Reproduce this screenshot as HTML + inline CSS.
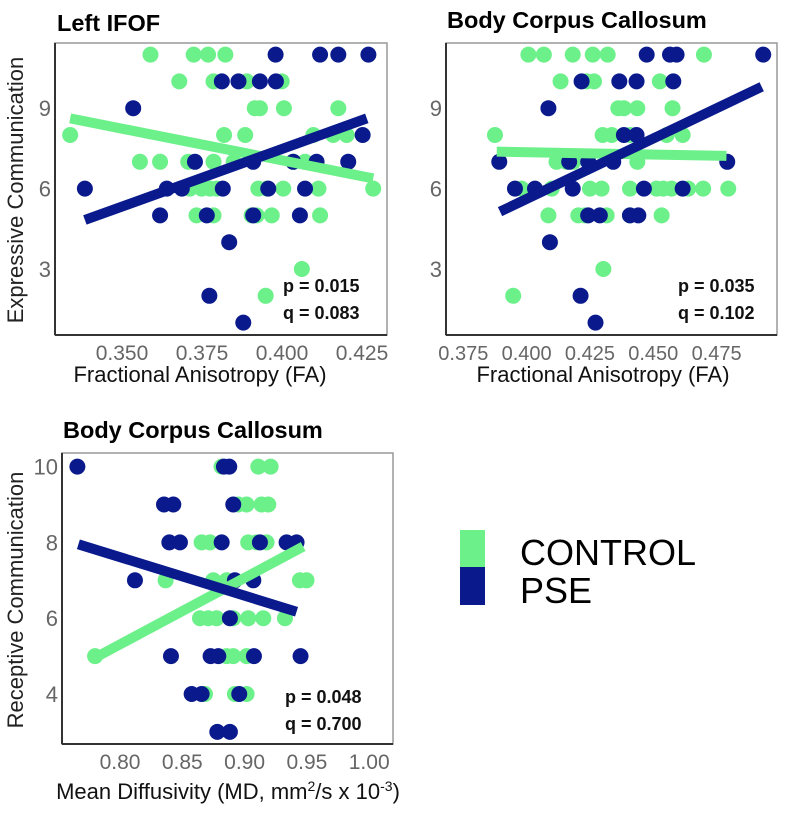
<!DOCTYPE html>
<html><head><meta charset="utf-8">
<style>
html,body{margin:0;padding:0;background:#fff;}
svg{display:block;font-family:"Liberation Sans",sans-serif;}
</style></head>
<body>
<svg id="chart" width="787" height="815" viewBox="0 0 787 815" xmlns="http://www.w3.org/2000/svg"></svg>
<script>
// ---------- DATA ----------
const aCtrlX = [0.3589,0.3724,0.3769,0.3823,0.3679,0.3786,0.3890,0.3999,0.3915,0.3931,0.4006,0.4176,0.3338,0.3819,0.3885,0.4098,0.4160,0.4202,0.3556,0.3619,0.3707,0.3786,0.3849,0.4036,0.4072,0.3712,0.3749,0.3775,0.3796,0.3926,0.3953,0.4004,0.4114,0.4285,0.3733,0.3786,0.3905,0.3921,0.3968,0.4119,0.4062,0.3949];
const aCtrlY = [11,11,11,11,10,10,10,10,9,9,9,9,8,8,8,8,8,8,7,7,7,7,7,7,7,6,6,6,6,6,6,6,6,6,5,5,5,5,5,5,3,2];
const aPseX = [0.3980,0.4119,0.4176,0.4270,0.3812,0.3864,0.3931,0.3981,0.3535,0.4252,0.3728,0.3910,0.4035,0.4108,0.4207,0.3384,0.3640,0.3687,0.3815,0.3957,0.4072,0.3619,0.3765,0.3910,0.4056,0.3835,0.3773,0.3879];
const aPseY = [11,11,11,11,10,10,10,10,9,8,7,7,7,7,7,6,6,6,6,6,6,5,5,5,5,4,2,1];
const aCtrlFit = [[0.3338,8.62],[0.4285,6.38]];
const aPseFit = [[0.3384,4.83],[0.4265,8.62]];
const bCtrlX = [0.4007,0.4068,0.4182,0.4261,0.4320,0.4700,0.4134,0.4237,0.4266,0.4526,0.4362,0.4384,0.4437,0.4576,0.3875,0.4300,0.4336,0.4408,0.4553,0.4616,0.4118,0.4158,0.4184,0.4437,0.3980,0.4099,0.4250,0.4296,0.4408,0.4513,0.4539,0.4572,0.4638,0.4697,0.4796,0.4086,0.4204,0.4230,0.4316,0.4408,0.4533,0.4303,0.3947];
const bCtrlY = [11,11,11,11,11,11,10,10,10,10,9,9,9,9,8,8,8,8,8,8,7,7,7,7,6,6,6,6,6,6,6,6,6,6,6,5,5,5,5,5,5,3,2];
const bPseX = [0.4474,0.4566,0.4592,0.4934,0.4217,0.4366,0.4434,0.4579,0.4086,0.4384,0.4434,0.3892,0.4168,0.4243,0.4342,0.4792,0.3954,0.4033,0.4182,0.4463,0.4616,0.4243,0.4289,0.4408,0.4441,0.4092,0.4213,0.4272];
const bPseY = [11,11,11,11,10,10,10,10,9,8,8,7,7,7,7,7,6,6,6,6,6,5,5,5,5,4,2,1];
const bCtrlFit = [[0.3882,7.38],[0.4789,7.22]];
const bPseFit = [[0.3895,5.14],[0.4928,9.80]];
const cCtrlX = [0.8815,0.9110,0.9209,0.8949,0.9016,0.9136,0.9190,0.8655,0.8722,0.9029,0.9096,0.9176,0.8366,0.8749,0.8856,0.9444,0.9497,0.8642,0.8709,0.8775,0.8909,0.9029,0.9150,0.9324,0.7800,0.8856,0.8909,0.9016,0.8682,0.8922,0.9016];
const cCtrlY = [10,10,10,9,9,9,9,8,8,8,8,8,7,7,7,7,7,6,6,6,6,6,6,6,5,5,5,5,4,4,4];
const cPseX = [0.7658,0.8834,0.8877,0.8353,0.8428,0.8909,0.8396,0.8481,0.8816,0.9123,0.9337,0.9417,0.8120,0.8922,0.9070,0.8882,0.8409,0.8727,0.8789,0.9075,0.9449,0.8575,0.8655,0.8957,0.8781,0.8882];
const cPseY = [10,10,10,9,9,9,8,8,8,8,8,8,7,7,7,6,5,5,5,5,5,4,4,4,3,3];
const cCtrlFit = [[0.7813,4.98],[0.947,7.89]];
const cPseFit = [[0.7666,7.95],[0.9417,6.17]];

const aXTicks = [0.350,0.375,0.400,0.425];
const aYTicks = [3,6,9];
const bXTicks = [0.375,0.400,0.425,0.450,0.475];
const cXTicks = [0.80,0.85,0.90,0.95,1.00];
const cYTicks = [4,6,8,10];

// ---------- DRAW ----------
const NS="http://www.w3.org/2000/svg";
const svg=document.getElementById('chart');
const GREEN="#6cf08a", BLUE="#0a1a8c";
function mk(tag,attrs,parent){const e=document.createElementNS(NS,tag);for(const k in attrs)e.setAttribute(k,attrs[k]);(parent||svg).appendChild(e);return e;}
function txt(s,attrs,parent){const e=mk('text',attrs,parent);e.textContent=s;return e;}

function panel(opt){
  const g=mk('g',{});
  
  
  const xs=v=>opt.x0+(v-opt.xv0)*opt.xk;
  const ys=v=>opt.y0-(v-opt.yv0)*opt.yk;
  const t=txt(opt.title,{x:opt.tx,y:opt.ty,'font-size':23.5,'font-weight':'bold',fill:'#000'},g);
  
  
  const box=mk('rect',{x:opt.bx,y:opt.by,width:opt.bw,height:opt.bh,fill:'#fff',stroke:'#999','stroke-width':1.5},g);
  
  
  mk('line',{x1:opt.bx,y1:opt.by,x2:opt.bx,y2:opt.by+opt.bh,stroke:'#333','stroke-width':2},g);
  mk('line',{x1:opt.bx,y1:opt.by+opt.bh,x2:opt.bx+opt.bw,y2:opt.by+opt.bh,stroke:'#333','stroke-width':2},g);
  opt.xticks.forEach(v=>{
    const e=txt(opt.xfmt(v),{x:xs(v),y:opt.by+opt.bh+25,'font-size':opt.xfs||21,fill:'#666','text-anchor':'middle'},g);
    
    
  });
  opt.yticks.forEach(v=>{
    const e=txt(String(v),{x:opt.bx-4,y:ys(v)+8,'font-size':22,fill:'#666','text-anchor':'end'},g);
    
    
  });
  const series=[[opt.cx,opt.cy,GREEN,'control-point'],[opt.px,opt.py,BLUE,'pse-point']];
  series.forEach(([X,Y,col,nm])=>{
    X.forEach((v,i)=>{
      const c=mk('circle',{cx:xs(v),cy:ys(Y[i]),r:8,fill:col},g);
      
      
    });
  });
  [[opt.cfit,GREEN,'control-fit-line'],[opt.pfit,BLUE,'pse-fit-line']].forEach(([f,col,nm])=>{
    const l=mk('line',{x1:xs(f[0][0]),y1:ys(f[0][1]),x2:xs(f[1][0]),y2:ys(f[1][1]),stroke:col,'stroke-width':10},g);
    
    
  });
  const p=txt(opt.p,{x:opt.sx,y:opt.sy,'font-size':18,fill:'#111','font-weight':'bold','stroke':'#fff','stroke-width':0},g);
  
  
  const q=txt(opt.q,{x:opt.sx,y:opt.sy+27,'font-size':18,fill:'#111','font-weight':'bold'},g);
  
  
  if(opt.ytitle){
    const yt=txt(opt.ytitle,{x:0,y:0,'font-size':22,fill:'#222','text-anchor':'middle',transform:`translate(${opt.ytx},${opt.yty}) rotate(-90)`},g);
    
    
  }
  const xt=txt('',{x:opt.xtx,y:opt.xty,'font-size':22,fill:'#111','text-anchor':'middle'},g);
  xt.innerHTML=opt.xtitle;
  
  
}

panel({name:'panel-left-ifof',title:'Left IFOF',tx:57,ty:31,bx:55,by:43,bw:332,bh:292,
  x0:122,xv0:0.35,xk:3200,y0:269,yv0:3,yk:26.8,xticks:aXTicks,yticks:aYTicks,xfmt:v=>v.toFixed(3),
  cx:aCtrlX,cy:aCtrlY,px:aPseX,py:aPseY,cfit:aCtrlFit,pfit:aPseFit,p:'p = 0.015',q:'q = 0.083',sx:283,sy:292,
  ytitle:'Expressive Communication',ytx:23,yty:190,xtitle:'Fractional Anisotropy (FA)',xtx:200,xty:382});
panel({name:'panel-body-cc-fa',title:'Body Corpus Callosum',tx:447,ty:28,bx:446,by:43,bw:331,bh:292,xfs:20,
  x0:463.3,xv0:0.375,xk:2533,y0:269,yv0:3,yk:26.8,xticks:bXTicks,yticks:aYTicks,xfmt:v=>v.toFixed(3),
  cx:bCtrlX,cy:bCtrlY,px:bPseX,py:bPseY,cfit:bCtrlFit,pfit:bPseFit,p:'p = 0.035',q:'q = 0.102',sx:678,sy:292,
  xtitle:'Fractional Anisotropy (FA)',xtx:603,xty:382});
panel({name:'panel-body-cc-md',title:'Body Corpus Callosum',tx:63,ty:438,bx:62,by:453,bw:331,bh:291,
  x0:120,xv0:0.80,xk:1246,y0:694,yv0:4,yk:37.9,xticks:cXTicks,yticks:cYTicks,xfmt:v=>v.toFixed(2),
  cx:cCtrlX,cy:cCtrlY,px:cPseX,py:cPseY,cfit:cCtrlFit,pfit:cPseFit,p:'p = 0.048',q:'q = 0.700',sx:285,sy:703,
  ytitle:'Receptive Communication',ytx:23,yty:600,
  xtitle:'Mean Diffusivity (MD, mm<tspan font-size="14" dy="-8">2</tspan><tspan dy="8">/s x 10</tspan><tspan font-size="14" dy="-8">-3</tspan><tspan dy="8">)</tspan>',xtx:228,xty:799});

// Legend
const lg=mk('g',{});


const l1=mk('rect',{x:460,y:530,width:25,height:37,fill:GREEN},lg);


const l2=mk('rect',{x:460,y:567,width:25,height:38,fill:BLUE},lg);


const t1=txt('CONTROL',{x:520,y:565,'font-size':36,fill:'#000'},lg);


const t2=txt('PSE',{x:520,y:603,'font-size':36,fill:'#000'},lg);


</script>
</body></html>
